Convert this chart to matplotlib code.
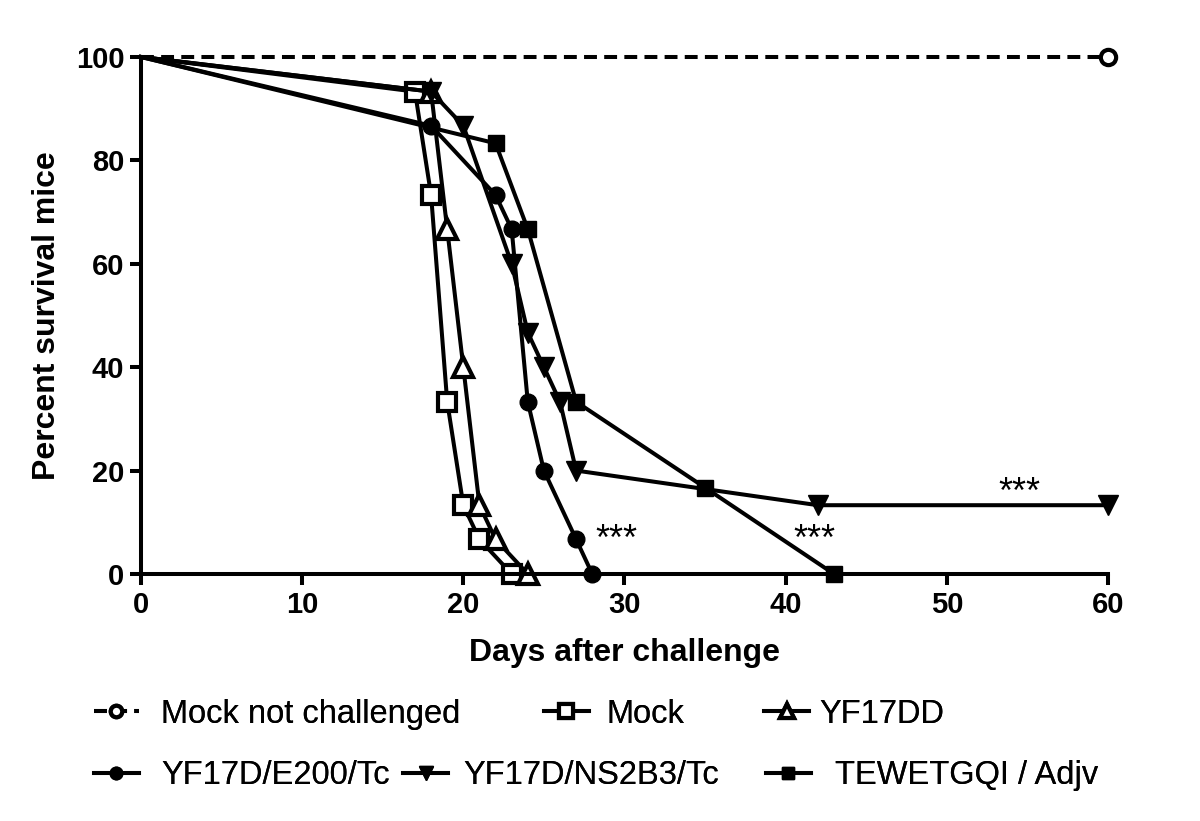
import matplotlib
matplotlib.use("Agg")
import matplotlib.pyplot as plt

plt.rcParams['font.family'] = ['Liberation Sans', 'DejaVu Sans']

# Survival data (days, percent)
mock_nc_x = [0, 60]
mock_nc_y = [100, 100]
mock_x = [0, 17, 18, 19, 20, 21, 23]
mock_y = [100, 93.3, 73.3, 33.3, 13.3, 6.7, 0]
yf17dd_x = [0, 18, 19, 20, 21, 22, 24]
yf17dd_y = [100, 93.3, 66.7, 40, 13.3, 6.7, 0]
e200_x = [0, 18, 22, 23, 24, 25, 27, 28]
e200_y = [100, 86.7, 73.3, 66.7, 33.3, 20, 6.7, 0]
ns2b3_x = [0, 18, 20, 23, 24, 25, 26, 27, 42, 60]
ns2b3_y = [100, 93.3, 86.7, 60, 46.7, 40, 33.3, 20, 13.3, 13.3]
tew_x = [0, 22, 24, 27, 35, 43]
tew_y = [100, 83.3, 66.7, 33.3, 16.7, 0]

# significance marks
star_x = [29.5, 41.8, 54.5]
star_y = [6.5, 6.5, 15.5]

fig = plt.figure(figsize=(12, 8.21), dpi=100)
ax = fig.add_axes([0.1175, 0.3009, 0.8058, 0.6297])

lw = 2.9
ms = 12
mew = 3
common = dict(color='black', linewidth=lw, clip_on=False)

h1, = ax.plot(mock_nc_x, mock_nc_y, linestyle=(0, (3.2, 1.8)), marker='o', markersize=ms - 1,
              markerfacecolor='white', markeredgewidth=mew, markevery=[1],
              label='Mock not challenged', **common)
h2, = ax.plot(mock_x, mock_y, marker='s', markersize=ms + 1, markerfacecolor='white',
              markeredgewidth=mew, markevery=list(range(1, len(mock_x))), label='Mock', **common)
h3, = ax.plot(yf17dd_x, yf17dd_y, marker='^', markersize=ms + 2, markerfacecolor='white',
              markeredgewidth=mew, markevery=list(range(1, len(yf17dd_x))), label='YF17DD', **common)
h4, = ax.plot(e200_x, e200_y, marker='o', markersize=ms, markevery=list(range(1, len(e200_x))),
              label='YF17D/E200/Tc', **common)
h5, = ax.plot(ns2b3_x, ns2b3_y, marker='v', markersize=ms + 2, markevery=list(range(1, len(ns2b3_x))),
              label='YF17D/NS2B3/Tc', **common)
h6, = ax.plot(tew_x, tew_y, marker='s', markersize=ms, markevery=list(range(1, len(tew_x))),
              label='TEWETGQI / Adjv', **common)

for sx, sy in zip(star_x, star_y):
    ax.text(sx, sy, '***', fontsize=26, ha='center', va='center')

ax.set_xlim(0, 60)
ax.set_ylim(0, 100)
ax.set_xticks(range(0, 61, 10))
ax.set_yticks(range(0, 101, 20))
for s in ['top', 'right']:
    ax.spines[s].set_visible(False)
for s in ['left', 'bottom']:
    ax.spines[s].set_linewidth(2.9)
ax.tick_params(width=2.9, length=8, labelsize=21, pad=4)
for lab in ax.get_xticklabels() + ax.get_yticklabels():
    lab.set_fontweight('bold')
ax.set_xlabel('Days after challenge', fontsize=23, fontweight='bold', labelpad=14)
ax.set_ylabel('Percent survival mice', fontsize=23, fontweight='bold', labelpad=10)

# legend entries placed individually, as in the original
# (handle, left x, centre y, gap between handle and text)
leg_fs = 23.5
entries = [(h1, 0.078, 0.130, 0.70), (h2, 0.453, 0.130, 0.55), (h3, 0.637, 0.130, 0.30),
           (h4, 0.078, 0.055, 0.70), (h5, 0.336, 0.055, 0.45), (h6, 0.638, 0.055, 0.75)]
for h, lx, ly, pad in entries:
    leg = fig.legend(handles=[h], loc='center left', bbox_to_anchor=(lx, ly),
                     frameon=False, fontsize=leg_fs, handlelength=1.38, handletextpad=pad,
                     markerscale=0.75, borderaxespad=0, borderpad=0)
    fig.add_artist(leg)

fig.savefig('out.png', dpi=100)
